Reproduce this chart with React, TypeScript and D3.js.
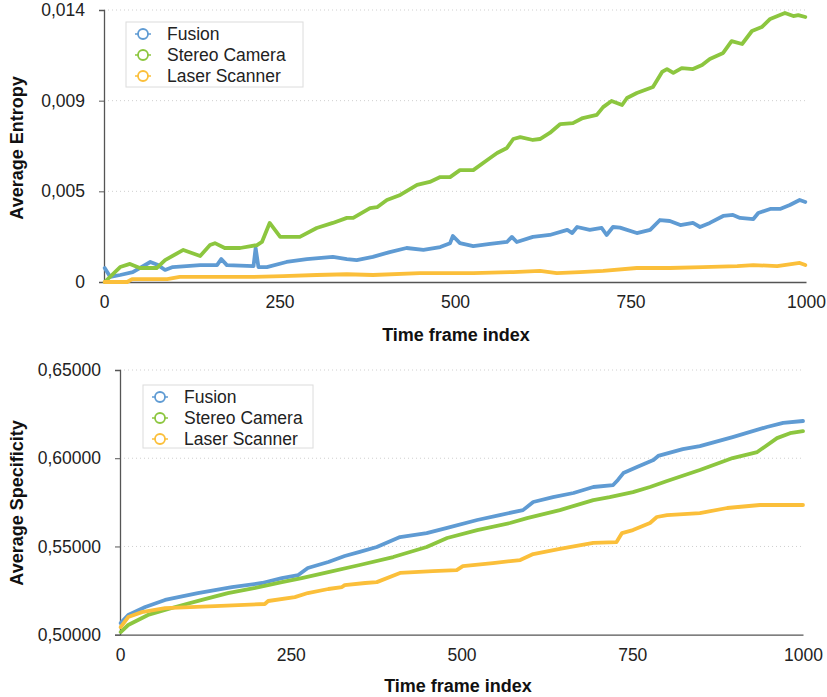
import React, { useEffect, useRef } from 'react';
import * as d3 from 'd3';

// series meta
const seriesNames = ['Fusion', 'Stereo Camera', 'Laser Scanner'];
const seriesColors = ['#5f9bd3', '#8cc63f', '#fbbf3a'];

const xTicks = [0, 250, 500, 750, 1000];

const entropyTicks = [0, 0.0046667, 0.0093333, 0.014];
const entropyTickLabels = ['0', '0,005', '0,009', '0,014'];
const specificityTicks = [0.5, 0.55, 0.6, 0.65];
const specificityTickLabels = ['0,50000', '0,55000', '0,60000', '0,65000'];

// Average Entropy
const fusionEntropyFrames = [1, 9, 23, 41, 66, 77, 87, 98, 137, 161, 167, 175, 213, 216, 220, 232, 260, 289, 326, 346, 360, 383, 407, 431, 455, 479, 493, 497, 507, 526, 550, 574, 581, 588, 611, 635, 660, 667, 674, 692, 709, 716, 725, 735, 759, 778, 792, 806, 821, 839, 849, 863, 882, 896, 906, 925, 932, 949, 963, 977, 991, 999];
const fusionEntropy = [0.00072, 0.00026, 0.00036, 0.00051, 0.00103, 0.00087, 0.00062, 0.00077, 0.00087, 0.00087, 0.00118, 0.00087, 0.00082, 0.00175, 0.00077, 0.00077, 0.00103, 0.00118, 0.00129, 0.00118, 0.00113, 0.00129, 0.00154, 0.00175, 0.00165, 0.0018, 0.002, 0.00237, 0.002, 0.00185, 0.00196, 0.00206, 0.00232, 0.00206, 0.00232, 0.00242, 0.00268, 0.00252, 0.00283, 0.00268, 0.00278, 0.00242, 0.00283, 0.0028, 0.00252, 0.00268, 0.00319, 0.00314, 0.00293, 0.00304, 0.00283, 0.00304, 0.0034, 0.00345, 0.0033, 0.00324, 0.00355, 0.00376, 0.00376, 0.00396, 0.00422, 0.00412];

const stereoEntropyFrames = [1, 23, 37, 51, 75, 87, 113, 137, 151, 158, 172, 194, 218, 225, 236, 251, 279, 303, 326, 346, 355, 379, 389, 403, 422, 446, 464, 479, 493, 507, 526, 546, 560, 574, 583, 593, 611, 621, 635, 650, 668, 682, 702, 711, 723, 738, 745, 759, 782, 795, 802, 811, 823, 839, 852, 863, 882, 894, 909, 923, 937, 949, 970, 982, 989, 999];
const stereoEntropy = [0, 0.00077, 0.00093, 0.00072, 0.00072, 0.00113, 0.00165, 0.00134, 0.0019, 0.002, 0.00175, 0.00175, 0.0019, 0.00206, 0.00304, 0.00232, 0.00232, 0.00278, 0.00304, 0.0033, 0.0033, 0.0038, 0.00385, 0.00422, 0.00448, 0.005, 0.00515, 0.0054, 0.0054, 0.00576, 0.00576, 0.00628, 0.00664, 0.0069, 0.00736, 0.00746, 0.00731, 0.00736, 0.00767, 0.00813, 0.00818, 0.00844, 0.0086, 0.009, 0.00932, 0.00911, 0.00947, 0.00973, 0.01004, 0.01081, 0.01096, 0.01076, 0.01101, 0.01096, 0.01117, 0.01148, 0.01179, 0.0124, 0.01225, 0.01292, 0.01312, 0.01354, 0.01385, 0.01369, 0.01374, 0.01364];

const laserEntropyFrames = [1, 33, 40, 90, 108, 161, 208, 255, 303, 346, 383, 450, 526, 583, 621, 645, 678, 711, 759, 806, 853, 902, 925, 959, 991, 999];
const laserEntropy = [0, 0, 0.00015, 0.00015, 0.00026, 0.00026, 0.00026, 0.0003, 0.00036, 0.0004, 0.00036, 0.00046, 0.00046, 0.00051, 0.00057, 0.00046, 0.00051, 0.00057, 0.00072, 0.00072, 0.00077, 0.00082, 0.00087, 0.00082, 0.00098, 0.00087];

// Average Specificity
const fusionSpecFrames = [1, 12, 37, 66, 114, 164, 208, 237, 261, 275, 305, 329, 351, 376, 410, 449, 479, 523, 556, 590, 605, 634, 664, 693, 722, 729, 737, 757, 781, 788, 824, 849, 897, 947, 971, 1000];
const fusionSpec = [0.5066, 0.5112, 0.5157, 0.5197, 0.5236, 0.527, 0.5293, 0.5321, 0.5338, 0.5378, 0.5412, 0.5446, 0.5469, 0.5497, 0.5553, 0.5576, 0.5605, 0.565, 0.5678, 0.5706, 0.5752, 0.578, 0.5803, 0.5837, 0.5848, 0.5877, 0.5916, 0.595, 0.599, 0.6013, 0.6052, 0.6069, 0.612, 0.6177, 0.62, 0.6211];

const stereoSpecFrames = [1, 12, 41, 81, 120, 158, 198, 237, 266, 305, 351, 400, 449, 479, 523, 571, 596, 644, 693, 717, 751, 776, 801, 849, 897, 933, 962, 981, 1000];
const stereoSpec = [0.5015, 0.5055, 0.5112, 0.5157, 0.5197, 0.5236, 0.5265, 0.5298, 0.5321, 0.5355, 0.5395, 0.544, 0.5497, 0.5548, 0.5593, 0.5633, 0.5661, 0.5706, 0.5763, 0.578, 0.5808, 0.5837, 0.5871, 0.5933, 0.6001, 0.6035, 0.6114, 0.6142, 0.6154];

const laserSpecFrames = [1, 12, 32, 66, 139, 212, 217, 256, 275, 305, 325, 329, 359, 376, 410, 458, 493, 502, 546, 586, 605, 644, 693, 727, 735, 751, 776, 786, 801, 849, 889, 937, 1000];
const laserSpec = [0.5043, 0.51, 0.5128, 0.5151, 0.5162, 0.5174, 0.5191, 0.5213, 0.5236, 0.5259, 0.527, 0.5281, 0.5293, 0.5298, 0.535, 0.536, 0.5366, 0.5389, 0.5406, 0.5423, 0.5457, 0.5486, 0.552, 0.5525, 0.5576, 0.5593, 0.5633, 0.5667, 0.5678, 0.5689, 0.5718, 0.5735, 0.5735];

const FONT = 'Liberation Sans, Arial, Helvetica, sans-serif';

function drawChart(root, cfg) {
    const x = d3.scaleLinear().domain([0, 1000]).range([cfg.left, cfg.right]);
    const y = d3.scaleLinear().domain(cfg.domain).range([cfg.bottom, cfg.top]);
    const g = root.append('g');

    // gridlines
    g.selectAll('.grid')
        .data(cfg.ticks.slice(1))
        .enter().append('line')
        .attr('x1', cfg.left).attr('x2', cfg.right)
        .attr('y1', d => y(d)).attr('y2', d => y(d))
        .attr('stroke', '#cfcfcf')
        .attr('stroke-dasharray', '1,3');

    // y axis
    const yAxis = d3.axisLeft(y)
        .tickValues(cfg.ticks)
        .tickSize(5)
        .tickPadding(14)
        .tickFormat((d, i) => cfg.tickLabels[i]);
    const ya = g.append('g').attr('transform', 'translate(' + cfg.left + ',0)').call(yAxis);
    ya.select('.domain').attr('stroke', '#555').attr('stroke-width', 1.3);
    ya.selectAll('.tick line').attr('stroke', '#555');
    ya.selectAll('text').attr('font-family', FONT).attr('font-size', 17.5).attr('fill', '#222');

    // x axis
    const xAxis = d3.axisBottom(x).tickValues(xTicks).tickSize(0).tickPadding(14).tickFormat(d3.format('d'));
    const xa = g.append('g').attr('transform', 'translate(0,' + cfg.bottom + ')').call(xAxis);
    xa.select('.domain').attr('stroke', '#555').attr('stroke-width', 1.3);
    xa.selectAll('text').attr('font-family', FONT).attr('font-size', 17.5).attr('fill', '#222');

    // lines
    const line = d3.line().x(d => x(d[0])).y(d => y(d[1]));
    cfg.series.forEach((s, i) => {
        const pts = s.frames.map((f, j) => [f, s.values[j]]);
        g.append('path')
            .datum(pts)
            .attr('d', line)
            .attr('fill', 'none')
            .attr('stroke', seriesColors[i])
            .attr('stroke-width', 3.8)
            .attr('stroke-linejoin', 'round')
            .attr('stroke-linecap', 'round');
    });

    // axis titles
    g.append('text')
        .attr('x', cfg.xTitle[0]).attr('y', cfg.xTitle[1])
        .attr('text-anchor', 'middle')
        .attr('font-family', FONT).attr('font-weight', 'bold').attr('font-size', 18)
        .attr('fill', '#111')
        .text('Time frame index');
    g.append('text')
        .attr('transform', 'translate(' + cfg.yTitle[0] + ',' + cfg.yTitle[1] + ') rotate(-90)')
        .attr('text-anchor', 'middle')
        .attr('font-family', FONT).attr('font-weight', 'bold').attr('font-size', 18)
        .attr('fill', '#111')
        .text(cfg.yLabel);

    // legend
    const lg = g.append('g').attr('transform', 'translate(' + cfg.legend[0] + ',' + cfg.legend[1] + ')');
    lg.append('rect')
        .attr('width', cfg.legend[2]).attr('height', cfg.legend[3])
        .attr('fill', '#fff').attr('stroke', '#dcdcdc');
    seriesNames.forEach((name, i) => {
        const cy = 12 + i * 21;
        lg.append('line')
            .attr('x1', 9).attr('x2', 25).attr('y1', cy).attr('y2', cy)
            .attr('stroke', seriesColors[i]).attr('stroke-width', 1.5);
        lg.append('circle')
            .attr('cx', 17).attr('cy', cy).attr('r', 5)
            .attr('fill', '#fff').attr('stroke', seriesColors[i]).attr('stroke-width', 1.8);
        lg.append('text')
            .attr('x', 41).attr('y', cy).attr('dy', '0.35em')
            .attr('font-family', FONT).attr('font-size', 17.5).attr('fill', '#222')
            .text(name);
    });
}

export default function App() {
    const ref = useRef(null);

    useEffect(() => {
        const svg = d3.select(ref.current);
        svg.selectAll('*').remove();

        drawChart(svg, {
            left: 104, right: 806, top: 10, bottom: 282,
            domain: [0, 0.014],
            ticks: entropyTicks, tickLabels: entropyTickLabels,
            yLabel: 'Average Entropy',
            xTitle: [456, 341], yTitle: [23, 148],
            legend: [126, 22, 177, 65],
            series: [
                { frames: fusionEntropyFrames, values: fusionEntropy },
                { frames: stereoEntropyFrames, values: stereoEntropy },
                { frames: laserEntropyFrames, values: laserEntropy }
            ]
        });

        drawChart(svg, {
            left: 120, right: 803, top: 370, bottom: 634.7,
            domain: [0.5, 0.65],
            ticks: specificityTicks, tickLabels: specificityTickLabels,
            yLabel: 'Average Specificity',
            xTitle: [458, 692], yTitle: [23, 503],
            legend: [143, 385, 170, 63],
            series: [
                { frames: fusionSpecFrames, values: fusionSpec },
                { frames: stereoSpecFrames, values: stereoSpec },
                { frames: laserSpecFrames, values: laserSpec }
            ]
        });
    }, []);

    return (
        <svg ref={ref} width={827} height={697}
            style={{ position: 'absolute', left: 0, top: 0, background: '#fff' }} />
    );
}
